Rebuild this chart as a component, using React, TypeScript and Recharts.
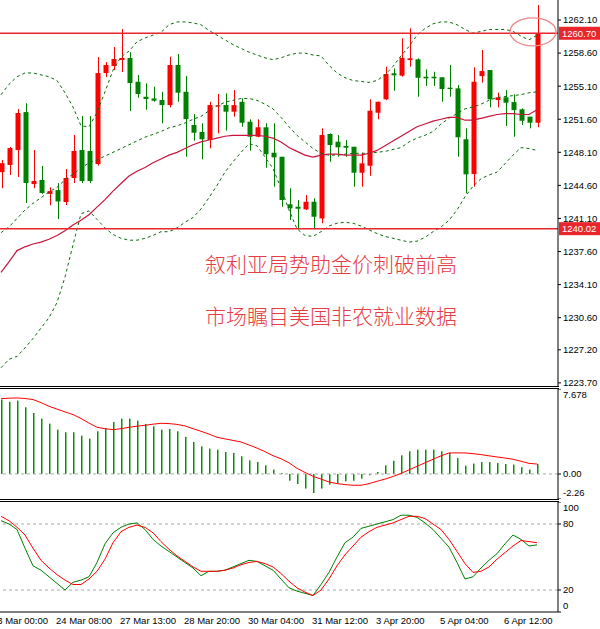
import React from "react";
import {
  ComposedChart, Bar, Line, XAxis, YAxis, ReferenceLine, ReferenceDot,
} from "recharts";

const RED = "#ff0000";
const GREEN = "#008000";
const HIST_GREEN = "#118c11";
const BAND = "#0b6b0b";
const MA_RED = "#c8143c";
const LEVEL = "#a8a8a8";
const FONT = "'Liberation Sans', Arial, sans-serif";

// H4 candles, oldest first
const OPEN = [
  1246.0, 1246.76, 1248.34, 1252.36, 1244.74, 1245.17, 1243.7, 1244.1, 1242.84, 1245.38,
  1248.34, 1248.24, 1246.86, 1256.49, 1257.23, 1257.87, 1258.08, 1255.57, 1253.98, 1253.8,
  1253.63, 1253.1, 1257.34, 1254.51, 1250.99, 1250.25, 1249.4, 1252.97, 1253.1, 1252.4,
  1253.45, 1251.34, 1249.75, 1250.75, 1248.06, 1247.63, 1242.6, 1242.34, 1242.06, 1242.87,
  1241.1, 1250.04, 1249.22, 1248.77, 1248.69, 1245.94, 1246.68, 1252.29, 1253.71, 1256.46,
  1256.21, 1257.87, 1257.94, 1256.1, 1256.1, 1256.04, 1254.94, 1254.87, 1249.48, 1245.8,
  1256.17, 1256.81, 1253.63, 1253.92, 1253.42, 1252.65, 1251.87, 1251.23,
];
const HIGH = [
  1247.3, 1248.66, 1252.68, 1253.3, 1248.34, 1246.65, 1244.4, 1244.85, 1246.33, 1249.93,
  1251.94, 1251.94, 1258.18, 1257.65, 1259.24, 1261.15, 1258.7, 1256.28, 1255.4, 1255.04,
  1254.51, 1258.22, 1258.5, 1256.17, 1252.15, 1251.17, 1253.45, 1254.27, 1254.34, 1254.69,
  1253.81, 1251.59, 1251.59, 1251.17, 1251.17, 1247.63, 1244.29, 1243.05, 1243.58, 1243.23,
  1250.64, 1250.11, 1249.93, 1249.4, 1248.69, 1248.06, 1253.71, 1253.45, 1257.16, 1256.99,
  1260.16, 1261.22, 1258.05, 1256.88, 1256.63, 1256.04, 1257.34, 1255.22, 1250.64, 1257.1,
  1258.93, 1256.81, 1254.41, 1254.69, 1254.24, 1252.75, 1251.87, 1263.69,
];
const LOW = [
  1244.3, 1245.7, 1245.49, 1242.74, 1244.3, 1243.7, 1242.5, 1241.04, 1242.52, 1244.85,
  1244.85, 1244.85, 1246.7, 1256.07, 1256.8, 1256.6, 1252.47, 1253.88, 1252.6, 1253.45,
  1251.17, 1252.86, 1253.45, 1247.63, 1249.33, 1247.36, 1248.52, 1250.11, 1250.39, 1251.87,
  1250.81, 1248.27, 1249.7, 1246.47, 1244.46, 1242.34, 1240.93, 1239.95, 1241.99, 1239.95,
  1240.59, 1247.1, 1247.63, 1247.63, 1244.46, 1244.46, 1245.62, 1251.59, 1253.63, 1254.62,
  1256.1, 1257.16, 1253.98, 1255.12, 1255.12, 1253.45, 1253.98, 1247.63, 1243.76, 1244.46,
  1255.47, 1252.86, 1252.86, 1250.88, 1249.75, 1250.99, 1250.64, 1250.75,
];
const CLOSE = [
  1246.95, 1248.55, 1252.26, 1244.85, 1245.06, 1243.8, 1244.0, 1242.9, 1245.38, 1248.24,
  1245.06, 1245.06, 1256.49, 1257.34, 1257.97, 1258.08, 1255.43, 1254.27, 1253.74, 1253.56,
  1253.1, 1257.34, 1254.41, 1251.62, 1250.17, 1249.48, 1253.1, 1253.07, 1252.4, 1253.1,
  1251.23, 1249.75, 1250.75, 1247.89, 1247.57, 1243.05, 1242.17, 1242.13, 1242.87, 1241.28,
  1249.93, 1248.87, 1248.63, 1248.59, 1245.94, 1246.93, 1252.5, 1253.45, 1256.39, 1256.25,
  1258.11, 1258.05, 1255.99, 1255.93, 1255.93, 1254.8, 1254.8, 1249.69, 1245.77, 1255.57,
  1256.7, 1253.71, 1253.92, 1253.35, 1252.57, 1251.44, 1251.23, 1260.7,
];

// Bollinger bands and moving average
const BB_UPPER = [
  1254.2, 1255.3, 1256.1, 1256.5, 1256.5, 1256.3, 1256.1, 1255.7, 1254.4, 1252.9,
  1250.9, 1250.8, 1252.3, 1254.5, 1256.8, 1258.2, 1258.8, 1259.8, 1260.2, 1260.5,
  1260.8, 1261.6, 1261.9, 1261.9, 1261.8, 1261.6, 1261.0, 1260.5, 1260.0, 1259.5,
  1259.1, 1258.7, 1258.4, 1258.1, 1257.9, 1258.1, 1258.4, 1258.6, 1258.6, 1258.4,
  1258.3, 1257.3, 1256.5, 1256.0, 1255.7, 1255.6, 1255.5, 1255.7, 1256.3, 1257.2,
  1258.3, 1259.3, 1260.5, 1261.2, 1261.7, 1261.9, 1261.9, 1261.6, 1261.1, 1260.7,
  1260.9, 1261.1, 1261.1, 1261.1, 1260.9, 1260.4, 1260.0, 1260.5,
];
const BB_MID = [
  1239.6, 1240.2, 1241.1, 1242.0, 1242.7, 1243.3, 1243.9, 1244.4, 1245.2, 1245.8,
  1246.4, 1247.0, 1247.3, 1247.7, 1248.1, 1248.5, 1248.9, 1249.3, 1249.7, 1250.0,
  1250.3, 1250.7, 1250.9, 1251.2, 1251.6, 1251.9, 1252.5, 1253.0, 1253.4, 1253.6,
  1253.8, 1253.8, 1253.6, 1253.2, 1252.7, 1251.8, 1250.8, 1249.9, 1249.2, 1248.5,
  1248.0, 1247.8, 1247.8, 1247.9, 1248.0, 1248.0, 1248.0, 1248.1, 1248.2, 1248.4,
  1248.6, 1249.2, 1249.6, 1249.9, 1250.3, 1251.1, 1251.7, 1252.2, 1252.7, 1252.9,
  1253.2, 1253.6, 1253.9, 1254.0, 1254.1, 1254.2, 1254.4, 1254.5,
];
const BB_LOWER = [
  1225.3, 1226.2, 1226.5, 1227.4, 1228.4, 1229.5, 1230.6, 1232.2, 1234.9, 1238.3,
  1241.6, 1241.9, 1241.0, 1240.1, 1239.4, 1239.0, 1238.8, 1238.8, 1239.0, 1239.3,
  1239.7, 1239.7, 1240.1, 1240.7, 1241.2, 1242.1, 1243.3, 1244.6, 1246.0, 1247.1,
  1248.1, 1249.0, 1248.8, 1247.6, 1246.4, 1244.3, 1242.0, 1240.0, 1239.3, 1239.2,
  1239.7, 1240.3, 1240.6, 1240.7, 1240.6, 1240.3, 1239.9, 1239.5, 1239.2, 1239.0,
  1238.8, 1238.6, 1238.7, 1239.1, 1239.7, 1240.2, 1240.9, 1242.0, 1243.4, 1244.5,
  1245.3, 1245.7, 1246.0, 1246.9, 1247.8, 1248.6, 1248.5, 1248.3,
];
const MA_LINE = [
  1235.4, 1236.5, 1237.7, 1238.1, 1238.4, 1238.6, 1238.9, 1239.3, 1239.8, 1240.4,
  1240.9, 1241.5, 1242.3, 1243.1, 1244.0, 1244.8, 1245.6, 1246.1, 1246.5, 1247.0,
  1247.4, 1247.8, 1248.1, 1248.5, 1248.9, 1249.2, 1249.4, 1249.6, 1249.8, 1249.9,
  1249.9, 1249.9, 1249.9, 1249.8, 1249.6, 1249.2, 1248.6, 1248.2, 1247.8, 1247.6,
  1247.8, 1247.9, 1247.9, 1247.8, 1247.8, 1247.8, 1248.0, 1248.3, 1248.8, 1249.3,
  1249.8, 1250.3, 1250.8, 1251.1, 1251.4, 1251.6, 1251.8, 1251.8, 1251.5, 1251.5,
  1251.7, 1251.9, 1252.1, 1252.2, 1252.2, 1252.1, 1252.1, 1252.6,
];

const MACD_HIST = [
  6.72, 6.51, 6.63, 6.03, 5.51, 5.0, 4.55, 4.01, 3.77, 3.77,
  3.46, 3.2, 3.86, 4.15, 4.7, 5.0, 5.0, 4.82, 4.52, 4.31,
  4.01, 4.07, 3.86, 3.35, 2.89, 2.5, 2.29, 2.2, 1.99, 1.9,
  1.6, 1.23, 1.08, 0.78, 0.4, 0.09, -0.61, -0.9, -1.32, -1.72,
  -1.32, -0.96, -0.82, -0.66, -0.61, -0.42, -0.12, 0.18, 0.78, 1.2,
  1.69, 2.05, 2.2, 2.2, 2.2, 2.05, 1.9, 1.44, 0.75, 0.94,
  1.08, 1.08, 0.99, 0.9, 0.85, 0.61, 0.4, 0.9,
];
const MACD_SIGNAL = [
  6.8, 6.85, 6.87, 6.82, 6.72, 6.45, 6.12, 5.86, 5.61, 5.37,
  5.01, 4.6, 4.22, 4.09, 4.01, 4.09, 4.22, 4.32, 4.4, 4.5,
  4.58, 4.55, 4.48, 4.34, 4.09, 3.86, 3.6, 3.32, 3.17, 3.03,
  2.89, 2.62, 2.34, 2.02, 1.65, 1.38, 1.01, 0.51, 0.14, -0.21,
  -0.46, -0.72, -0.87, -0.96, -1.02, -1.02, -0.87, -0.66, -0.46, -0.23,
  0.05, 0.37, 0.69, 1.01, 1.33, 1.64, 1.9, 1.91, 1.9, 1.84,
  1.75, 1.64, 1.54, 1.44, 1.33, 1.15, 0.96, 0.9,
];

const STOCH_K = [
  83, 80, 75, 58, 42, 38, 32, 26, 20, 27,
  29, 32, 45, 62, 72, 77, 80, 81, 75, 66,
  60, 55, 50, 45, 40, 33, 37, 37, 38, 41,
  44, 47, 46, 42, 38, 30, 22, 19, 17, 15,
  25, 36, 50, 63, 68, 76, 78, 80, 82, 84,
  88, 88, 86, 81, 75, 67, 59, 45, 30, 32,
  40, 47, 53, 62, 70, 66, 60, 61,
];
const STOCH_D = [
  87, 83, 77, 70, 58, 47, 40, 34, 29, 25,
  25, 30, 37, 48, 63, 73, 77, 79, 77, 72,
  64, 57, 51, 46, 41, 37, 37, 37, 38, 40,
  43, 45, 46, 44, 41, 35, 28, 22, 18, 15,
  20, 30, 42, 52, 60, 68, 73, 77, 79, 81,
  84, 87, 87, 85, 80, 75, 66, 55, 44, 36,
  37, 41, 48, 54, 60, 65, 64, 63,
];

const TIME_TICKS = [-1, 7, 15, 23, 31, 39, 47, 55, 63];
const TIME_LABELS = [
  "23 Mar 00:00", "24 Mar 08:00", "27 Mar 13:00", "28 Mar 20:00", "30 Mar 04:00",
  "31 Mar 12:00", "3 Apr 20:00", "5 Apr 04:00", "6 Apr 12:00",
];
const PRICE_TICKS = [1223.7, 1227.2, 1230.6, 1234.1, 1237.6, 1241.1, 1244.6, 1248.1, 1251.6, 1255.1, 1258.6, 1262.1];
const PRICE_LINES = [1260.7, 1240.02];
const MACD_TICKS = [-2.26, 0, 7.678];
const STOCH_TICKS = [0, 20, 80, 100];
const HEADLINES = ["叙利亚局势助金价刺破前高", "市场瞩目美国非农就业数据"];

const rows = OPEN.map((open, i) => ({
  i, open, high: HIGH[i], low: LOW[i], close: CLOSE[i],
  upper: BB_UPPER[i], mid: BB_MID[i], lower: BB_LOWER[i], ma: MA_LINE[i],
  hist: MACD_HIST[i], signal: MACD_SIGNAL[i], k: STOCH_K[i], d: STOCH_D[i],
}));

const X_DOMAIN: [number, number] = [-1.25, 69.625];
const CHART_W = 609;
const AXIS_W = 42;
const MARGIN = { top: 0, right: 0, bottom: 0, left: 0 };

function Candle(props: any) {
  const { x, y, width, height, payload } = props;
  const { open, close, high, low } = payload;
  const color = close >= open ? RED : GREEN;
  const k = height / (high - low || 1);
  const yo = y + (high - open) * k;
  const yc = y + (high - close) * k;
  const cx = Math.round(x + width / 2) + 0.5;
  const top = Math.min(yo, yc);
  const bh = Math.max(1, Math.abs(yo - yc));
  return (
    <g>
      <line x1={cx} x2={cx} y1={y} y2={y + height} stroke={color} strokeWidth={1} />
      <rect x={cx - 3} y={top} width={5} height={bh} fill={color} />
    </g>
  );
}

function HistBar(props: any) {
  const { x, y, width, height } = props;
  const cx = Math.round(x + width / 2);
  const top = Math.min(y, y + height);
  return <rect x={cx} y={top} width={1.5} height={Math.abs(height)} fill={HIST_GREEN} />;
}

function edgeTick(min: number, max: number, fmt: (v: number) => string) {
  return (props: any) => {
    const { x, y, payload } = props;
    const v = payload.value;
    const dy = v === max ? 9.2 : v === min ? -2.8 : 3.4;
    return (
      <text x={x} y={y + dy} fontSize={9.5} fontFamily={FONT} fill="#000" textAnchor="start">
        {fmt(v)}
      </text>
    );
  };
}

function TimeTick(props: any) {
  const { x, y, payload } = props;
  const label = TIME_LABELS[TIME_TICKS.indexOf(payload.value)];
  return (
    <text x={x - 1} y={y} dy="0.71em" fontSize={9.5} fontFamily={FONT} fill="#000" textAnchor="start">
      {label}
    </text>
  );
}

function priceLabel(value: number) {
  return (props: any) => {
    const { x, y, width } = props.viewBox;
    return (
      <g>
        <rect x={x + width + 1} y={y - 6.5} width={41} height={13} fill="#e8262b" />
        <text x={x + width + 4} y={y + 3.5} fontSize={9.5} fontFamily={FONT} fill="#fff">
          {value.toFixed(2)}
        </text>
      </g>
    );
  };
}

const axisTick = { fontSize: 9.5, fill: "#000", fontFamily: FONT };
const line = (style: React.CSSProperties) => (
  <div style={{ position: "absolute", background: "#000", ...style }} />
);

export default function App() {
  return (
    <div style={{ position: "fixed", left: 0, top: 0, width: 600, height: 629, overflow: "hidden", background: "#fff" }}>
      <div style={{ position: "absolute", left: -9, top: 0 }}>
        <ComposedChart width={CHART_W} height={392} data={rows} margin={{ ...MARGIN, bottom: 6 }}>
          <XAxis dataKey="i" type="number" domain={X_DOMAIN} allowDataOverflow hide />
          <YAxis
            orientation="right" width={AXIS_W} domain={[1223.37, 1264.22]} allowDataOverflow
            ticks={PRICE_TICKS} interval={0} tickFormatter={(v) => v.toFixed(2)}
            tick={axisTick} tickSize={3} tickMargin={2}
            axisLine={{ stroke: "#000" }} tickLine={{ stroke: "#000" }}
          />
          <Line dataKey="upper" stroke={BAND} strokeDasharray="3 3" dot={false} activeDot={false} isAnimationActive={false} />
          <Line dataKey="mid" stroke={BAND} strokeDasharray="3 3" dot={false} activeDot={false} isAnimationActive={false} />
          <Line dataKey="lower" stroke={BAND} strokeDasharray="3 3" dot={false} activeDot={false} isAnimationActive={false} />
          <Line dataKey="ma" stroke={MA_RED} strokeWidth={1.2} dot={false} activeDot={false} isAnimationActive={false} />
          <Bar dataKey={(d: any) => [d.low, d.high]} barSize={5} shape={Candle} activeBar={false} isAnimationActive={false} />
          {PRICE_LINES.map((p) => (
            <ReferenceLine key={p} y={p} stroke="#e8262b" strokeWidth={1.5} label={priceLabel(p)} />
          ))}
          <ReferenceDot
            x={66.5} y={1260.85} r={14} isFront
            shape={(p: any) => (
              <ellipse cx={p.cx} cy={p.cy} rx={23} ry={14} fill="none" stroke="#ee8a8a" strokeWidth={1.4} />
            )}
          />
        </ComposedChart>
      </div>

      <div style={{ position: "absolute", left: -9, top: 389 }}>
        <ComposedChart width={CHART_W} height={110} data={rows} margin={MARGIN}>
          <XAxis dataKey="i" type="number" domain={X_DOMAIN} allowDataOverflow hide />
          <YAxis
            orientation="right" width={AXIS_W} domain={[-2.26, 7.678]} allowDataOverflow
            ticks={MACD_TICKS} interval={0} tickSize={3} tickMargin={2}
            tick={edgeTick(-2.26, 7.678, (v) => (v === 7.678 ? "7.678" : v.toFixed(2)))}
            axisLine={{ stroke: "#000" }} tickLine={{ stroke: "#000" }}
          />
          <ReferenceLine y={0} stroke={LEVEL} strokeDasharray="3 3" />
          <Bar dataKey="hist" barSize={2} shape={HistBar} activeBar={false} isAnimationActive={false} />
          <Line dataKey="signal" stroke={RED} strokeWidth={1} dot={false} activeDot={false} isAnimationActive={false} />
        </ComposedChart>
      </div>

      <div style={{ position: "absolute", left: -9, top: 502 }}>
        <ComposedChart width={CHART_W} height={127} data={rows} margin={MARGIN}>
          <XAxis
            dataKey="i" type="number" domain={X_DOMAIN} allowDataOverflow height={17}
            ticks={TIME_TICKS} interval={0} tick={TimeTick} tickSize={3} tickMargin={2}
            axisLine={{ stroke: "#000" }} tickLine={false}
          />
          <YAxis
            orientation="right" width={AXIS_W} domain={[0, 100]} allowDataOverflow
            ticks={STOCH_TICKS} interval={0} tickSize={3} tickMargin={2}
            tick={edgeTick(0, 100, (v) => String(v))}
            axisLine={{ stroke: "#000" }} tickLine={{ stroke: "#000" }}
          />
          <ReferenceLine y={80} stroke={LEVEL} strokeDasharray="3 3" />
          <ReferenceLine y={20} stroke={LEVEL} strokeDasharray="3 3" />
          <Line dataKey="k" stroke={GREEN} strokeWidth={1} dot={false} activeDot={false} isAnimationActive={false} />
          <Line dataKey="d" stroke={RED} strokeWidth={1} dot={false} activeDot={false} isAnimationActive={false} />
        </ComposedChart>
      </div>

      {line({ left: 0, top: 386, width: 559, height: 1 })}
      {line({ left: 0, top: 388, width: 559, height: 1 })}
      {line({ left: 0, top: 499, width: 559, height: 1 })}
      {line({ left: 0, top: 501, width: 559, height: 1 })}

      {HEADLINES.map((t, n) => (
        <div
          key={t}
          style={{
            position: "absolute", left: 205, top: 253 + n * 52, fontSize: 21, lineHeight: "21px",
            color: "#e63c44", fontFamily: "'Noto Sans CJK SC', sans-serif", fontWeight: 300, whiteSpace: "nowrap",
          }}
        >
          {t}
        </div>
      ))}
    </div>
  );
}
